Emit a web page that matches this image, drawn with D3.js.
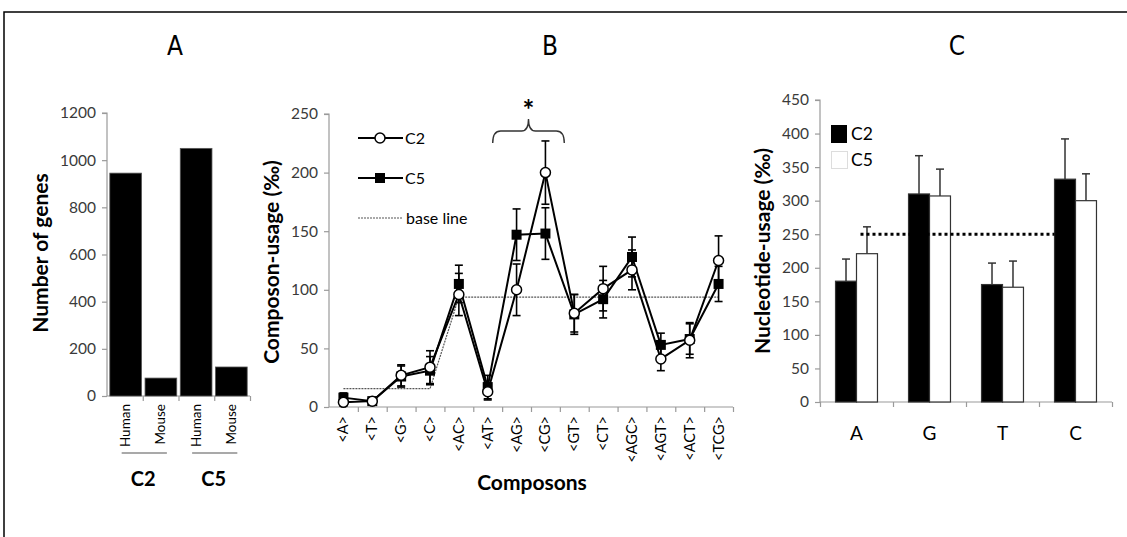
<!DOCTYPE html>
<html><head><meta charset="utf-8">
<script src="https://cdn.jsdelivr.net/npm/d3@7"></script>
<style>
body{margin:0;background:#fff;}
svg text{font-family:Lato,"Open Sans",sans-serif;}
.ax path,.ax line{stroke:#9a9a9a;stroke-width:1.2;}
.ax text{fill:#3a3a3a;font-size:15.5px;}
</style></head><body>
<svg id="c" width="1127" height="537"></svg>
<script>
// ---- Panel A data ----
const speciesA = ["Human","Mouse","Human","Mouse"];
const groupsA = ["C2","C5"];
const valuesA = [945, 76, 1050, 123];
const ticksA = [0,200,400,600,800,1000,1200];

// ---- Panel B data ----
const composons = ["<A>","<T>","<G>","<C>","<AC>","<AT>","<AG>","<CG>","<GT>","<CT>","<AGC>","<AGT>","<ACT>","<TCG>"];
const c2Usage = [4, 5, 27, 34, 96, 13, 100, 200, 80, 101, 117, 41, 57, 125];
const c2Err   = [3, 1, 9, 14, 18, 7, 22, 27, 16, 19, 17, 10, 15, 21];
const c5Usage = [8, 5, 26, 31, 105, 17, 147, 148, 79, 92, 128, 53, 58, 105];
const c5Err   = [4, 1, 9, 12, 16, 10, 22, 22, 17, 16, 17, 10, 13, 15];
const baseLine = [15.6, 15.6, 15.6, 15.6, 93.8, 93.8, 93.8, 93.8, 93.8, 93.8, 93.8, 93.8, 93.8, 93.8];
const ticksB = [0,50,100,150,200,250];

// ---- Panel C data ----
const nucleotides = ["A","G","T","C"];
const seriesC = ["C2","C5"];
const c2Nuc = [180, 310, 175, 332];
const c2NucErr = [33, 57, 32, 60];
const c5Nuc = [221, 307, 171, 300];
const c5NucErr = [40, 40, 39, 40];
const nucBase = 250;
const ticksC = [0,50,100,150,200,250,300,350,400,450];

const svg = d3.select("#c");

// frame
svg.append("path").attr("d","M4,537 L4,12 L1127,12").attr("fill","none").attr("stroke","#000").attr("stroke-width",1.5);

// panel letters
[["A",175],["B",550],["C",957]].forEach(([t,x])=>{
  svg.append("text").attr("x",x).attr("y",55).attr("text-anchor","middle")
    .style("font-family","'Liberation Sans Narrow','DejaVu Sans Condensed',sans-serif")
    .style("font-size","26px").text(t);
});

// ================= Panel A =================
{
  const yA = d3.scaleLinear().domain([0,1200]).range([396,113]);
  const xA = d3.scaleBand().domain(d3.range(valuesA.length)).range([107,250]).paddingInner(0.1).paddingOuter(0.08);
  const bA = d3.scaleLinear().domain([0,valuesA.length]).range([107,250]);
  svg.append("g").attr("class","ax").attr("transform","translate(107,0)")
    .call(d3.axisLeft(yA).tickValues(ticksA).tickSize(5).tickPadding(6).tickFormat(d3.format("d")))
    .call(g=>g.select(".domain").attr("d","M-5,113H0V396"));
  svg.append("g").attr("class","ax").attr("transform","translate(0,396)")
    .call(d3.axisBottom(bA).tickValues(d3.range(1,valuesA.length+1)).tickSize(5).tickFormat(""))
    .call(g=>g.select(".domain").attr("d","M107,0H250"));
  svg.selectAll(".barA").data(valuesA).enter().append("rect")
    .attr("x",(d,i)=>xA(i)).attr("width",xA.bandwidth())
    .attr("y",d=>yA(d)).attr("height",d=>yA(0)-yA(d))
    .attr("fill","#000").attr("stroke","#555").attr("stroke-width",0.8);
  speciesA.forEach((s,i)=>{
    svg.append("text").attr("transform",`translate(${xA(i)+xA.bandwidth()/2+4.5},404) rotate(-90)`)
      .attr("text-anchor","end").style("font-size","13.5px").text(s);
  });
  groupsA.forEach((g,k)=>{
    const x0 = xA(2*k)+xA.bandwidth()/2-4, x1 = xA(2*k+1)+xA.bandwidth()/2+6;
    svg.append("line").attr("x1",x0).attr("x2",x1).attr("y1",453).attr("y2",453).attr("stroke","#555").attr("stroke-width",1.2);
    svg.append("text").attr("x",(xA(2*k)+xA(2*k+1)+xA.bandwidth())/2).attr("y",486).attr("text-anchor","middle")
      .style("font-size","20px").style("font-weight","bold").text(g);
  });
  svg.append("text").attr("transform","translate(48,253) rotate(-90)").attr("text-anchor","middle")
    .style("font-size","21px").style("font-weight","bold").text("Number of genes");
}

// ================= Panel B =================
{
  const yB = d3.scaleLinear().domain([0,250]).range([407,114]);
  const xB = d3.scaleBand().domain(composons).range([329,733]);
  const bB = d3.scaleLinear().domain([0,composons.length]).range([329,733]);
  const cx = d=>xB(d)+xB.bandwidth()/2;
  svg.append("g").attr("class","ax").attr("transform","translate(329,0)")
    .call(d3.axisLeft(yB).tickValues(ticksB).tickSize(5).tickPadding(6))
    .call(g=>g.select(".domain").attr("d","M-5,114H0V407"));
  svg.append("g").attr("class","ax").attr("transform","translate(0,407)")
    .call(d3.axisBottom(bB).tickValues(d3.range(1,composons.length+1)).tickSize(5).tickFormat(""))
    .call(g=>g.select(".domain").attr("d","M329,0H733"));
  composons.forEach(c=>{
    svg.append("text").attr("transform",`translate(${cx(c)+5},416) rotate(-90)`)
      .attr("text-anchor","end").style("font-size","14.5px").text(c);
  });
  // base line
  const bl = d3.line().x((d,i)=>cx(composons[i])).y(d=>yB(d));
  svg.append("path").attr("d",bl(baseLine)).attr("fill","none").attr("stroke","#555").attr("stroke-width",1.2).attr("stroke-dasharray","2,1");
  // error bars
  function errs(vals, err){
    vals.forEach((v,i)=>{
      const x = cx(composons[i]);
      const g = svg.append("g").attr("stroke","#000").attr("stroke-width",1.6);
      g.append("line").attr("x1",x).attr("x2",x).attr("y1",yB(v-err[i])).attr("y2",yB(v+err[i]));
      [v-err[i], v+err[i]].forEach(e=>g.append("line").attr("x1",x-4).attr("x2",x+4).attr("y1",yB(e)).attr("y2",yB(e)));
    });
  }
  errs(c2Usage,c2Err); errs(c5Usage,c5Err);
  const ln = d3.line().x((d,i)=>cx(composons[i])).y(d=>yB(d));
  svg.append("path").attr("d",ln(c5Usage)).attr("fill","none").attr("stroke","#000").attr("stroke-width",2);
  svg.append("path").attr("d",ln(c2Usage)).attr("fill","none").attr("stroke","#000").attr("stroke-width",2);
  svg.selectAll(".sq").data(c5Usage).enter().append("rect")
    .attr("x",(d,i)=>cx(composons[i])-5).attr("y",d=>yB(d)-5).attr("width",10).attr("height",10).attr("fill","#000");
  svg.selectAll(".ci").data(c2Usage).enter().append("circle")
    .attr("cx",(d,i)=>cx(composons[i])).attr("cy",d=>yB(d)).attr("r",5).attr("fill","#fff").attr("stroke","#000").attr("stroke-width",1.5);
  // legend
  svg.append("line").attr("x1",358).attr("x2",403).attr("y1",138).attr("y2",138).attr("stroke","#000").attr("stroke-width",2);
  svg.append("circle").attr("cx",380).attr("cy",138).attr("r",5).attr("fill","#fff").attr("stroke","#000").attr("stroke-width",1.5);
  svg.append("text").attr("x",405).attr("y",144).style("font-size","16px").text("C2");
  svg.append("line").attr("x1",358).attr("x2",403).attr("y1",178).attr("y2",178).attr("stroke","#000").attr("stroke-width",2);
  svg.append("rect").attr("x",375).attr("y",173).attr("width",10).attr("height",10).attr("fill","#000");
  svg.append("text").attr("x",405).attr("y",184).style("font-size","16px").text("C5");
  svg.append("line").attr("x1",358).attr("x2",403).attr("y1",218).attr("y2",218).attr("stroke","#555").attr("stroke-width",1.2).attr("stroke-dasharray","2,1");
  svg.append("text").attr("x",406).attr("y",224).style("font-size","16px").text("base line");
  // brace + star
  const bl0 = cx("<AT>")+5, bl1 = cx("<GT>")-10, bm = (bl0+bl1)/2;
  svg.append("path").attr("d",`M${bl0},143 Q${bl0},131 ${bl0+8},131 L${bm-7},131 Q${bm},131 ${bm},119 Q${bm},131 ${bm+7},131 L${bl1-8},131 Q${bl1},131 ${bl1},143`)
    .attr("fill","none").attr("stroke","#333").attr("stroke-width",1.4);
  svg.append("text").attr("x",bm).attr("y",120).attr("text-anchor","middle").style("font-size","28px").style("font-weight","bold").text("*");
  svg.append("text").attr("x",532).attr("y",490).attr("text-anchor","middle").style("font-size","21px").style("font-weight","bold").text("Composons");
  svg.append("text").attr("transform","translate(279,262) rotate(-90)").attr("text-anchor","middle")
    .style("font-size","21px").style("font-weight","bold").text("Composon-usage (‰)");
}

// ================= Panel C =================
{
  const yC = d3.scaleLinear().domain([0,450]).range([402,100]);
  const xC = d3.scaleBand().domain(nucleotides).range([820,1112]);
  const xs = d3.scaleBand().domain(seriesC).range([0,xC.bandwidth()]).paddingOuter(0.74);
  const bC = d3.scaleLinear().domain([0,nucleotides.length]).range([820,1112]);
  svg.append("g").attr("class","ax").attr("transform","translate(820,0)")
    .call(d3.axisLeft(yC).tickValues(ticksC).tickSize(5).tickPadding(6))
    .call(g=>g.select(".domain").attr("d","M-5,100H0V402"));
  svg.append("g").attr("class","ax").attr("transform","translate(0,402)")
    .call(d3.axisBottom(bC).tickValues(d3.range(0,nucleotides.length+1)).tickSize(5).tickFormat(""))
    .call(g=>g.select(".domain").attr("d","M820,0H1112"));
  const sets = [[c2Nuc,c2NucErr,"#000"],[c5Nuc,c5NucErr,"#fff"]];
  sets.forEach(([vals,err,fill],k)=>{
    vals.forEach((v,i)=>{
      const x = xC(nucleotides[i])+xs(seriesC[k]);
      const mx = x + xs.bandwidth()/2;
      svg.append("line").attr("x1",mx).attr("x2",mx).attr("y1",yC(v)).attr("y2",yC(v+err[i])).attr("stroke","#333").attr("stroke-width",1.5);
      svg.append("line").attr("x1",mx-4).attr("x2",mx+4).attr("y1",yC(v+err[i])).attr("y2",yC(v+err[i])).attr("stroke","#333").attr("stroke-width",1.5);
      svg.append("rect").attr("x",x).attr("width",xs.bandwidth()).attr("y",yC(v)).attr("height",yC(0)-yC(v))
        .attr("fill",fill).attr("stroke","#333").attr("stroke-width",1.2);
    });
  });
  const lx0 = xC("A")+xs("C5")+4, lx1 = xC("C")+xs("C2");
  svg.append("line").attr("x1",lx0).attr("x2",lx1).attr("y1",yC(nucBase)).attr("y2",yC(nucBase))
    .attr("stroke","#000").attr("stroke-width",3).attr("stroke-dasharray","3,3");
  nucleotides.forEach(n=>{
    svg.append("text").attr("x",xC(n)+xC.bandwidth()/2).attr("y",440).attr("text-anchor","middle").style("font-size","19px").text(n);
  });
  svg.append("rect").attr("x",831).attr("y",125).attr("width",16).attr("height",18).attr("fill","#000");
  svg.append("rect").attr("x",831.5).attr("y",151.5).attr("width",16).attr("height",17).attr("fill","#fff").attr("stroke","#ddd");
  svg.append("text").attr("x",851).attr("y",140).style("font-size","17.5px").text("C2");
  svg.append("text").attr("x",851).attr("y",166).style("font-size","17.5px").text("C5");
  svg.append("text").attr("transform","translate(770,251) rotate(-90)").attr("text-anchor","middle")
    .style("font-size","21px").style("font-weight","bold").text("Nucleotide-usage (‰)");
}
</script>
</body></html>
